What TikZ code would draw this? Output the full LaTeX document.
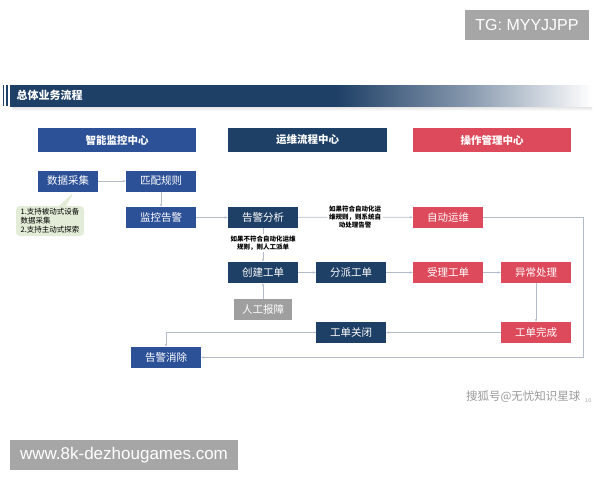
\documentclass[tikz,border=0pt]{standalone}
\usepackage{fontspec}
\newfontfamily\cjk{Noto Sans CJK SC}
\newfontfamily\wmfont{Liberation Sans}
\usetikzlibrary{
	arrows.meta,
	positioning,
	shapes.callouts
}
\definecolor{monblue}{HTML}{2D5197}
\definecolor{flownavy}{HTML}{1E3F66}
\definecolor{opred}{HTML}{DC4A5B}
\definecolor{linegray}{HTML}{B3BCC9}
\definecolor{notegreen}{HTML}{E2ECD6}
\definecolor{wmgray}{HTML}{A6A6A6}
\pgfdeclarehorizontalshading{barfade}{100bp}{color(0bp)=(flownavy); color(53bp)=(flownavy); color(64bp)=(flownavy!55); color(75bp)=(white); color(100bp)=(white)}

\begin{document}
\begin{tikzpicture}[
			x=1pt, y=-1pt,
			HeadStyle/.style={minimum width=158pt, minimum height=24pt, inner sep=0pt,
				text=white, font=\cjk\bfseries\fontsize{10.5}{12}\selectfont},
			StepStyle/.style={minimum width=70pt, minimum height=21pt, inner sep=0pt,
				text=white, font=\cjk\fontsize{10.5}{12}\selectfont},
			NoteStyle/.style={align=center, inner sep=1.5pt, fill=white,
				font=\cjk\bfseries\fontsize{6.5}{8}\selectfont},
			FlowArrow/.style={draw=linegray, line width=0.8pt, -{Stealth[length = 3pt]}},
			FlowLine/.style={draw=linegray, line width=0.8pt},
			MarkStyle/.style={fill=wmgray, text=white, inner sep=0pt,
				font=\wmfont\fontsize{16}{18}\selectfont}]
	\useasboundingbox (0,0) rectangle (600,480);
	% title bar
	\shade[top color=gray!25, bottom color=white] (12,106) rectangle (592,111);
	\shade[shading=barfade] (10,85) rectangle (592,106);
	\fill[flownavy] (2.5,85) rectangle (4,106);
	\fill[flownavy] (5.5,85) rectangle (7.5,106);
	\node[anchor=west, text=white, font=\cjk\bfseries\fontsize{11}{13}\selectfont] (title) at (13,95.5) {总体业务流程};
	% column heads
	\node[HeadStyle, fill=monblue] (hdMon) at (117,140) {智能监控中心};
	\node[HeadStyle, fill=flownavy, minimum width=159pt] (hdFlow) at (307.5,140) {运维流程中心};
	\node[HeadStyle, fill=opred] (hdOp) at (492,140) {操作管理中心};
	% monitoring column
	\node[StepStyle, fill=monblue, minimum width=60pt] (collect) at (68,181) {数据采集};
	\node[StepStyle, fill=monblue] (match) at (161,181) {匹配规则};
	\node[StepStyle, fill=monblue] (alarm) at (161,217.5) {监控告警};
	\node[StepStyle, fill=monblue] (clear) at (166,357.5) {告警消除};
	\node[rectangle callout, rounded corners=4pt, fill=notegreen, align=left,
		minimum width=68pt, minimum height=30pt, inner sep=2pt,
		callout absolute pointer={(74,192)},
		font=\cjk\fontsize{7.5}{9}\selectfont] (note) at (50,221)
		{1.支持被动式设备\\数据采集\\2.支持主动式探索};
	% flow column
	\node[StepStyle, fill=flownavy] (analyse) at (263,217.5) {告警分析};
	\node[StepStyle, fill=flownavy] (create) at (263,272.5) {创建工单};
	\node[StepStyle, fill=flownavy] (dispatch) at (351,272.5) {分派工单};
	\node[StepStyle, fill=flownavy] (closeorder) at (351,332.5) {工单关闭};
	\node[StepStyle, fill=gray!75, minimum width=58pt] (manual) at (263,309.5) {人工报障};
	\node[NoteStyle] (autoLbl) at (355,217) {如果符合自动化运\\维规则，则系统自\\动处理告警};
	\node[NoteStyle] (manualLbl) at (263,243) {如果不符合自动化运维\\规则，则人工派单};
	% operation column
	\node[StepStyle, fill=opred] (autoops) at (448,217.5) {自动运维};
	\node[StepStyle, fill=opred] (accept) at (448,272.5) {受理工单};
	\node[StepStyle, fill=opred] (handle) at (536,272.5) {异常处理};
	\node[StepStyle, fill=opred] (finish) at (536,332.5) {工单完成};
	\coordinate (rightTurn) at (583,217.5);
	% connectors
	\draw[FlowArrow] (collect) -- (match);
	\draw[FlowArrow] (match) -- (alarm);
	\draw[FlowArrow] (alarm) -- (analyse);
	\draw[FlowLine] (analyse) -- (autoLbl);
	\draw[FlowArrow] (autoLbl) -- (autoops);
	\draw[FlowLine] (analyse) -- (manualLbl);
	\draw[FlowArrow] (manualLbl) -- (create);
	\draw[FlowArrow] (manual) -- (create);
	\draw[FlowArrow] (create) -- (dispatch);
	\draw[FlowArrow] (dispatch) -- (accept);
	\draw[FlowArrow] (accept) -- (handle);
	\draw[FlowArrow] (handle) -- (finish);
	\draw[FlowArrow] (finish) -- (closeorder);
	\draw[FlowArrow] (closeorder.west) -| (clear.north);
	\draw[FlowArrow] (autoops.east) -- (rightTurn) |- (clear.east);
	% marks
	\node[MarkStyle, minimum width=124pt, minimum height=30pt] (tgMark) at (527,25) {TG: MYYJJPP};
	\node[MarkStyle, minimum width=228pt, minimum height=30pt, font=\wmfont\fontsize{17}{19}\selectfont] (siteMark) at (124,455) {www.8k-dezhougames.com};
	\node[anchor=east, text=gray!80, font=\cjk\fontsize{11.5}{13}\selectfont] (source) at (584,397) {搜狐号@无忧知识星球};
	\node[anchor=west, text=gray!70, font=\wmfont\fontsize{5.5}{6}\selectfont, inner sep=0pt] (pageNo) at (585,401) {10};
\end{tikzpicture}
\end{document}
